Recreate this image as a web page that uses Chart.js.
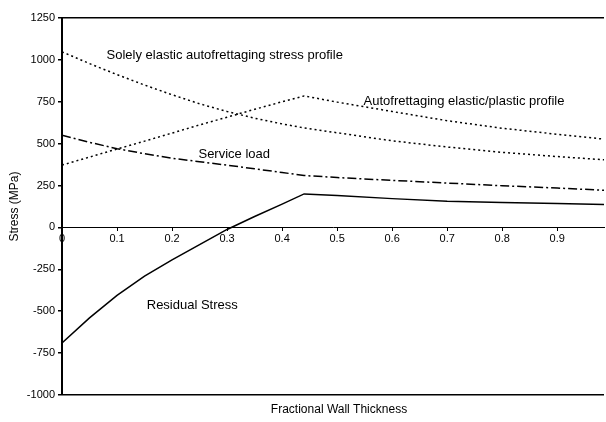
<!DOCTYPE html>
<html>
<head>
<meta charset="utf-8">
<title>Stress profile</title>
<script src="https://cdn.jsdelivr.net/npm/chart.js@4.4.0/dist/chart.umd.min.js"></script>
<style>
	html, body { margin: 0; padding: 0; background: #fff; }
	#wrap { width: 606px; height: 422px; }
</style>
</head>
<body>
<div id="wrap"><canvas id="stress_chart" width="606" height="422"></canvas></div>
<script>
// fractional wall thickness (x) shared by all series
var thickness = [0, 0.05, 0.1, 0.15, 0.2, 0.25, 0.3, 0.35, 0.4, 0.44, 0.5, 0.6, 0.7, 0.8, 0.9, 0.985];

// stress values in MPa
var solelyElastic = [1048, 978, 912, 850, 792, 738, 692, 652, 618, 594, 565, 517, 480, 448, 423, 404];
var elasticPlastic = [372, 420, 468, 515, 563, 612, 658, 705, 750, 785, 748, 692, 637, 592, 556, 527];
var serviceLoad = [550, 508, 470, 440, 413, 392, 372, 350, 328, 310, 298, 281, 265, 249, 235, 222];
var residualStress = [-690, -540, -405, -290, -193, -102, -12, 65, 139, 200, 190, 172, 156, 149, 143, 137];

// axis tick labels
var xTicks = [0, 0.1, 0.2, 0.3, 0.4, 0.5, 0.6, 0.7, 0.8, 0.9];
var yTicks = [-1000, -750, -500, -250, 0, 250, 500, 750, 1000, 1250];

// text labels placed on the plot: [text, x, y]
var curveLabels = [
	["Solely elastic autofrettaging stress profile", 0.081, 1026],
	["Autofrettaging elastic/plastic profile", 0.548, 751],
	["Service load", 0.248, 435],
	["Residual Stress", 0.154, -468]
];

var FONT = "'Liberation Sans', Arial, sans-serif";


function toPoints(xList, yList) {
	var pts = new Array();
	for (var i in xList) {
		pts.push({x: xList[i], y: yList[i]});
	}
	return pts;
}


function lineSet(label, yList, dash, width) {
	return {
		label: label,
		data: toPoints(thickness, yList),
		borderColor: "#000",
		backgroundColor: "#000",
		borderWidth: width,
		borderDash: dash,
		borderCapStyle: 'butt',
		fill: false,
		tension: 0,
		pointRadius: 0
	};
}


var textPlugin = {
	id: 'textPlugin',
	afterDraw: function (chart) {
		var ctx = chart.ctx;
		var xs = chart.scales.x;
		var ys = chart.scales.y;
		var area = chart.chartArea;
		ctx.save();
		ctx.fillStyle = "#000";
		ctx.font = "13px " + FONT;
		ctx.textAlign = "left";
		ctx.textBaseline = "middle";
		for (var i in curveLabels) {
			ctx.fillText(curveLabels[i][0], xs.getPixelForValue(curveLabels[i][1]), ys.getPixelForValue(curveLabels[i][2]));
		}

		// axis titles
		ctx.font = "12px " + FONT;
		ctx.textAlign = "center";
		ctx.fillText("Fractional Wall Thickness", (area.left + area.right) / 2 + 6, 410);
		ctx.translate(15, (area.top + area.bottom) / 2);
		ctx.rotate(-Math.PI / 2);
		ctx.fillText("Stress (MPa)", 0, 0);
		ctx.restore();
	}
};


var ctx = document.getElementById("stress_chart").getContext("2d");
new Chart(ctx, {
	type: 'line',
	data: {
		datasets: [
			lineSet("Solely elastic", solelyElastic, [2, 3], 1.5),
			lineSet("Elastic/plastic", elasticPlastic, [2, 3], 1.5),
			lineSet("Service load", serviceLoad, [9, 3, 2, 3], 1.5),
			lineSet("Residual Stress", residualStress, [], 1.5)
		]
	},
	options: {
		responsive: false,
		animation: false,
		layout: {
			padding: {top: 18, right: 2, bottom: 27, left: 0}
		},
		plugins: {
			legend: {display: false},
			tooltip: {enabled: false}
		},
		scales: {
			x: {
				type: 'linear',
				position: {y: 0},
				min: 0,
				max: 0.985,
				afterBuildTicks: function (scale) {
					scale.ticks = xTicks.map(function (v) { return {value: v}; });
				},
				ticks: {
					color: "#000",
					font: {family: FONT, size: 11},
					padding: 2,
					maxRotation: 0,
					autoSkip: false,
					callback: function (v) {
						return String(Math.round(v * 10) / 10);
					}
				},
				grid: {
					drawOnChartArea: false,
					tickLength: 3,
					tickColor: "#000"
				},
				border: {color: "#000", width: 1}
			},
			y: {
				min: -1000,
				max: 1250,
				afterFit: function (scale) {
					scale.width = 62;
				},
				afterBuildTicks: function (scale) {
					scale.ticks = yTicks.map(function (v) { return {value: v}; });
				},
				ticks: {
					color: "#000",
					font: {family: FONT, size: 11},
					padding: 3,
					autoSkip: false,
					callback: function (v) {
						return String(v);
					}
				},
				grid: {
					drawOnChartArea: true,
					tickLength: 4,
					tickColor: "#000",
					lineWidth: 1.5,
					color: function (c) {
						if (c.tick && (c.tick.value === -1000 || c.tick.value === 1250)) {
							return "#000";
						}
						return "rgba(0,0,0,0)";
					}
				},
				border: {color: "#000", width: 2}
			}
		}
	},
	plugins: [textPlugin]
});
</script>
</body>
</html>
